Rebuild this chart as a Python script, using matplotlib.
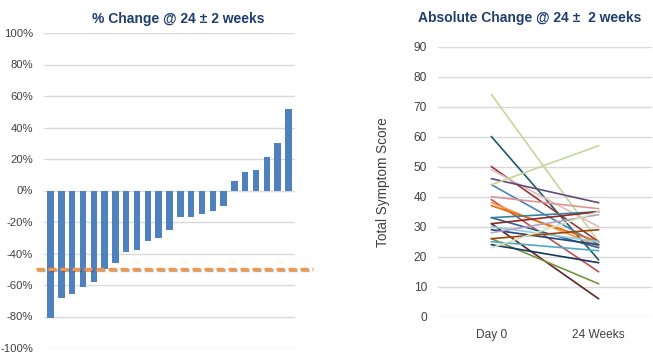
import matplotlib.pyplot as plt
from matplotlib.ticker import FuncFormatter
import matplotlib.patheffects as pe

plt.rcParams['font.family'] = ['Liberation Sans', 'DejaVu Sans']

# % change per patient, sorted
pct_change = [-81, -68, -66, -61, -58, -50, -46, -39, -38, -32, -30, -25,
              -17, -17, -15, -13, -10, 6, 12, 13, 21, 30, 52]
threshold = -50

# total symptom score, day 0 and 24 weeks
day0 = [31, 60, 74, 39, 26, 50, 44, 49, 38, 37, 33, 24,
        46, 29, 30, 25, 40, 33, 26, 31, 28, 44, 23]
week24 = [6, 19, 25, 15, 11, 25, 24, 30, 23.5, 25, 23, 18,
          38, 24, 25, 22, 36, 35, 29, 35, 34, 57, 35]
line_colors = ["#632523", "#215968", "#C3D69B", "#C0504D", "#77933C", "#953735",
               "#4F81BD", "#E6B9B8", "#F79646", "#E46C0A", "#366092", "#17375E",
               "#604A7B", "#1F497D", "#93CDDD", "#4BACC6", "#D99694", "#31859C",
               "#984807", "#8B2A2A", "#B3A2C7", "#C4D79B", "#D7E4BD"]
timepoints = ["Day 0", "24 Weeks"]

title_col = "#1F3D6E"
grid_col = "#D9D9D9"
tick_col = "#404040"

fig = plt.figure(figsize=(6.53, 3.55), dpi=100)

# left: waterfall of % change
ax1 = fig.add_axes([44/653, 1-348/355, (295-44)/653, (348-33)/355])
x = range(len(pct_change))
ax1.bar(x, pct_change, width=0.6, color="#4F81BD", zorder=2)
ax1.set_xlim(-0.6, len(pct_change) - 0.4)
ax1.set_ylim(-100, 100)
ax1.set_yticks(range(-100, 101, 20))
ax1.yaxis.set_major_formatter(FuncFormatter(lambda v, p: f"{int(v)}%"))
ax1.grid(axis="y", color=grid_col, lw=1, zorder=0)
ax1.set_xticks([])
ax1.tick_params(axis="y", length=0, labelsize=8.1, labelcolor=tick_col, pad=8)
for s in ax1.spines.values():
    s.set_visible(False)
ax1.axhline(threshold, xmin=-0.03, xmax=1.07, color="#F79646", lw=2.4,
            ls=(0, (2.4, 1.2)), clip_on=False, zorder=3,
            path_effects=[pe.SimpleLineShadow(offset=(0.5, -0.8), alpha=0.3), pe.Normal()])
fig.text(178/653, 1-19/355, "% Change @ 24 ± 2 weeks", ha="center", va="center",
         fontsize=10, fontweight="bold", color=title_col)

# right: spaghetti plot of absolute scores
ax2 = fig.add_axes([438/653, 1-316.7/355, (652-438)/653, (316.7-46.7)/355])
for a, b, c in zip(day0, week24, line_colors):
    ax2.plot([0, 1], [a, b], color=c, lw=1.2, zorder=2)
ax2.set_xlim(-0.5, 1.5)
ax2.set_ylim(0, 90)
ax2.set_yticks(range(0, 91, 10))
ax2.set_xticks([0, 1])
ax2.set_xticklabels(timepoints)
ax2.grid(axis="y", color=grid_col, lw=1, zorder=0)
ax2.tick_params(length=0, labelsize=8.6, labelcolor=tick_col)
ax2.tick_params(axis="y", pad=8)
ax2.tick_params(axis="x", pad=9)
for s in ax2.spines.values():
    s.set_visible(False)
ax2.set_ylabel("Total Symptom Score", fontsize=9.8, color=tick_col, labelpad=17)
fig.text(530/653, 1-18/355, "Absolute Change @ 24 ±  2 weeks", ha="center", va="center",
         fontsize=10, fontweight="bold", color=title_col)

fig.savefig("out.png", dpi=100)
